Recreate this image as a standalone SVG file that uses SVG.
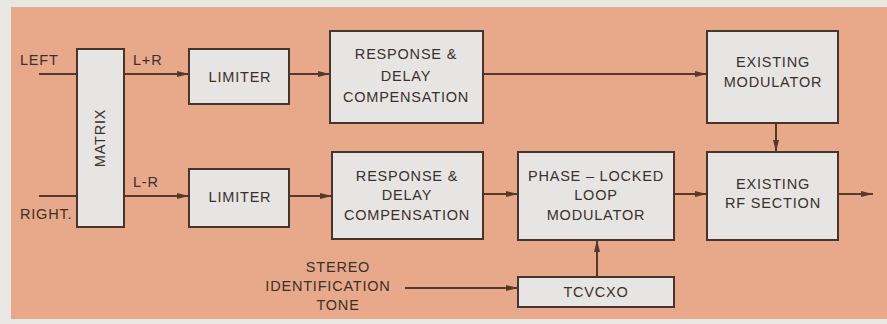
<svg xmlns="http://www.w3.org/2000/svg" width="887" height="324" viewBox="0 0 887 324">
<defs>
<style>
.box{fill:#e7e5e3;stroke:#45352c;stroke-width:2}
.ln{fill:none;stroke:#553a2c;stroke-width:2}
text{font-family:"Liberation Sans","DejaVu Sans",sans-serif;font-size:14.5px;fill:#3b302a;letter-spacing:0.8px}
.c{text-anchor:middle}
</style>
<marker id="ah" viewBox="0 0 12 8" refX="12" refY="4" markerWidth="12" markerHeight="8" markerUnits="userSpaceOnUse" orient="auto">
<path d="M0,1 L12,4 L0,7 Z" fill="#553a2c"/>
</marker>
</defs>
<rect x="0" y="0" width="887" height="324" fill="#e9e7e4"/>
<rect x="11" y="7" width="876" height="312" fill="#e8a98a"/>

<g id="connectors">
<line class="ln" x1="39" y1="74" x2="77" y2="74"/>
<line class="ln" x1="39" y1="196" x2="77" y2="196"/>
<line class="ln" x1="124" y1="74" x2="189" y2="74" marker-end="url(#ah)"/>
<line class="ln" x1="124" y1="196" x2="189" y2="196" marker-end="url(#ah)"/>
<line class="ln" x1="289" y1="74" x2="330" y2="74" marker-end="url(#ah)"/>
<line class="ln" x1="289" y1="196" x2="332" y2="196" marker-end="url(#ah)"/>
<line class="ln" x1="483" y1="74" x2="707" y2="74" marker-end="url(#ah)"/>
<line class="ln" x1="483" y1="194" x2="518" y2="194" marker-end="url(#ah)"/>
<line class="ln" x1="674" y1="194" x2="707" y2="194" marker-end="url(#ah)"/>
<line class="ln" x1="776" y1="123" x2="776" y2="152" marker-end="url(#ah)"/>
<line class="ln" x1="838" y1="194" x2="873" y2="194" marker-end="url(#ah)"/>
<line class="ln" x1="405" y1="288" x2="518" y2="288" marker-end="url(#ah)"/>
<line class="ln" x1="597" y1="277" x2="597" y2="240" marker-end="url(#ah)"/>
</g>

<g id="labels">
<text x="20" y="65">LEFT</text>
<text x="20" y="219">RIGHT.</text>
<text x="133" y="65">L+R</text>
<text x="133" y="187">L-R</text>
<text class="c" x="338" y="272">STEREO</text>
<text class="c" x="328" y="291">IDENTIFICATION</text>
<text class="c" x="338" y="310">TONE</text>
</g>

<g id="matrix">
<rect class="box" x="77" y="49" width="47" height="178"/>
<text class="c" transform="translate(105,138) rotate(-90)">MATRIX</text>
</g>
<g id="limiter1">
<rect class="box" x="189" y="49" width="100" height="55"/>
<text class="c" x="240" y="82">LIMITER</text>
</g>
<g id="limiter2">
<rect class="box" x="189" y="169" width="100" height="58"/>
<text class="c" x="240" y="202">LIMITER</text>
</g>
<g id="response1">
<rect class="box" x="330" y="31" width="153" height="92"/>
<text class="c" x="406" y="59">RESPONSE &amp;</text>
<text class="c" x="406" y="81">DELAY</text>
<text class="c" x="406" y="102">COMPENSATION</text>
</g>
<g id="response2">
<rect class="box" x="332" y="152" width="151" height="87"/>
<text class="c" x="407" y="181">RESPONSE &amp;</text>
<text class="c" x="407" y="200">DELAY</text>
<text class="c" x="407" y="220">COMPENSATION</text>
</g>
<g id="pll">
<rect class="box" x="518" y="152" width="156" height="88"/>
<text class="c" x="596" y="181">PHASE – LOCKED</text>
<text class="c" x="596" y="200">LOOP</text>
<text class="c" x="596" y="220">MODULATOR</text>
</g>
<g id="tcvcxo">
<rect class="box" x="518" y="277" width="156" height="30"/>
<text class="c" x="596" y="297">TCVCXO</text>
</g>
<g id="modulator">
<rect class="box" x="707" y="31" width="131" height="92"/>
<text class="c" x="773" y="67">EXISTING</text>
<text class="c" x="773" y="87">MODULATOR</text>
</g>
<g id="rfsection">
<rect class="box" x="707" y="152" width="131" height="88"/>
<text class="c" x="773" y="189">EXISTING</text>
<text class="c" x="773" y="208">RF SECTION</text>
</g>
</svg>
